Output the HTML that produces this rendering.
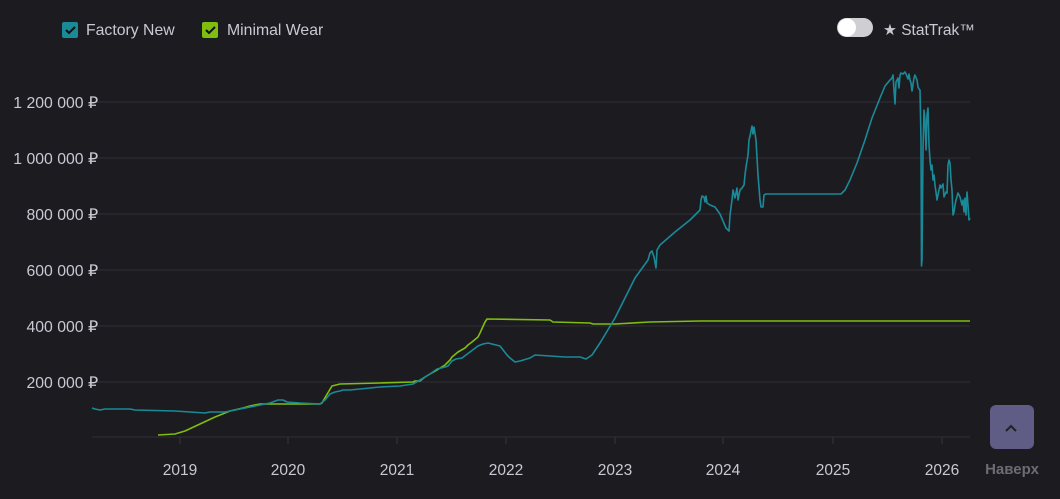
<!DOCTYPE html>
<html><head><meta charset="utf-8"><style>
html,body{margin:0;padding:0;background:#1c1b20;width:1060px;height:499px;overflow:hidden;font-family:"Liberation Sans",sans-serif}
svg{position:absolute;left:0;top:0}
</style></head><body>
<svg width="1060" height="499" xmlns="http://www.w3.org/2000/svg">
<rect width="1060" height="499" fill="#1c1b20"/>
<g stroke="#26252b" stroke-width="2">
<line x1="97" y1="102" x2="970" y2="102"/><line x1="97" y1="158" x2="970" y2="158"/>
<line x1="97" y1="214" x2="970" y2="214"/><line x1="97" y1="270" x2="970" y2="270"/>
<line x1="97" y1="326" x2="970" y2="326"/><line x1="97" y1="382" x2="970" y2="382"/>
<line x1="92" y1="437" x2="970" y2="437"/>
</g>
<g stroke="#35343a" stroke-width="1">
<line x1="180" y1="437" x2="180" y2="444"/><line x1="288" y1="437" x2="288" y2="444"/><line x1="397" y1="437" x2="397" y2="444"/><line x1="506" y1="437" x2="506" y2="444"/><line x1="615" y1="437" x2="615" y2="444"/><line x1="723" y1="437" x2="723" y2="444"/><line x1="833" y1="437" x2="833" y2="444"/><line x1="942" y1="437" x2="942" y2="444"/>
</g>
<g fill="#c9c9d3" font-size="15.8">
<g text-anchor="end"><text x="98" y="108">1 200 000 ₽</text><text x="98" y="164">1 000 000 ₽</text><text x="98" y="220">800 000 ₽</text><text x="98" y="276">600 000 ₽</text><text x="98" y="332">400 000 ₽</text><text x="98" y="388">200 000 ₽</text></g>
<g text-anchor="middle" font-size="15.5"><text x="180" y="475">2019</text><text x="288" y="475">2020</text><text x="397" y="475">2021</text><text x="506" y="475">2022</text><text x="615" y="475">2023</text><text x="723" y="475">2024</text><text x="833" y="475">2025</text><text x="942" y="475">2026</text></g>
</g>
<polyline fill="none" stroke="#7fbd0f" stroke-width="1.6" stroke-linejoin="round" points="158,435 175,434 185,431 200,424 215,417 230,411 243,408 250,406 260,404 270,404 320,404 322,403 326,396 332,386 336,385 340,384 380,383 413,382 415,381 420,381 425,377 430,374 437,370 445,365 450,360 452,357 458,352 465,348 468,345 472,342 478,337 480,333 485,322 487,319 550,320 553,322 590,323 593,324 615,324 650,322 700,321 970,321"/>
<polyline fill="none" stroke="#1a8a98" stroke-width="1.6" stroke-linejoin="round" points="92,408 95,409 100,410 105,409 130,409 135,410 175,411 190,412 205,413 210,412 225,412 240,409 255,406 270,403 278,400 283,400 287,402 300,403 320,404 325,400 330,394 335,392 340,391 343,390 350,390 370,388 380,387 400,386 413,384 420,380 430,374 437,369 445,367 448,366 452,361 456,359 462,358 470,352 478,346 483,344 488,343 492,344 500,346 507,355 510,358 515,362 520,361 530,358 535,355 550,356 565,357 580,357 586,359 592,355 600,343 615,318 625,298 635,278 648,260 650,253 652,251 654,257 656,268 657,250 660,245 675,232 690,220 700,210 701,200 702,196 704,197 705,202 706,196 707,203 710,205 715,207 720,214 726,228 729,231 730,215 732,200 733,190 735,198 737,188 738,200 740,190 742,188 744,185 745,175 746,167 748,155 749,140 750,136 752,126 753,134 754,127 756,140 758,175 760,200 761,207 763,207 764,195 766,194 841,194 845,190 850,180 857,163 865,140 872,118 880,98 885,86 890,80 892,78 893,75 894,90 895,104 896,82 898,78 899,88 900,75 901,73 903,74 905,72 906,74 908,79 909,74 910,80 911,83 912,91 914,78 915,75 917,80 918,87 919,89 920,90 921,140 921.5,266 922,260 923,150 924,110 925,120 926,150 927,115 928,108 929,145 930,160 931,170 932,165 933,180 934,175 935,185 936,192 937,200 938,195 940,185 941,188 943,184 944,197 946,192 947,193 948,165 949,160 950,163 951,180 952,190 953,215 954,212 955,205 956,200 958,193 960,197 962,205 963,200 964,212 965,198 966,215 967,192 968,205 969,220 970,218"/>
<rect x="62" y="22" width="16" height="16" rx="2" fill="#1a8a98"/>
<path d="M66 30 l3 3 l6 -6" fill="none" stroke="#111" stroke-width="2"/>
<text x="86" y="35" fill="#c9c9d3" font-size="15.8">Factory New</text>
<rect x="202" y="22" width="16" height="16" rx="2" fill="#7fbd0f"/>
<path d="M206 30 l3 3 l6 -6" fill="none" stroke="#111" stroke-width="2"/>
<text x="227" y="35" fill="#c9c9d3" font-size="15.8">Minimal Wear</text>
<rect x="837" y="18" width="36" height="19" rx="9.5" fill="#cfcfd3"/>
<circle cx="847" cy="27.5" r="9" fill="#fff"/>
<text x="883" y="35" fill="#c9c9d3" font-size="15.5">★ StatTrak™</text>
<rect x="990" y="405" width="44" height="44" rx="6" fill="#5f5c86"/>
<path d="M1006 431 l5 -5 l5 5" fill="none" stroke="#222" stroke-width="2"/>
<text x="1012" y="474" fill="#6c6c73" font-size="15" font-weight="bold" text-anchor="middle">Наверх</text>
</svg>
</body></html>
